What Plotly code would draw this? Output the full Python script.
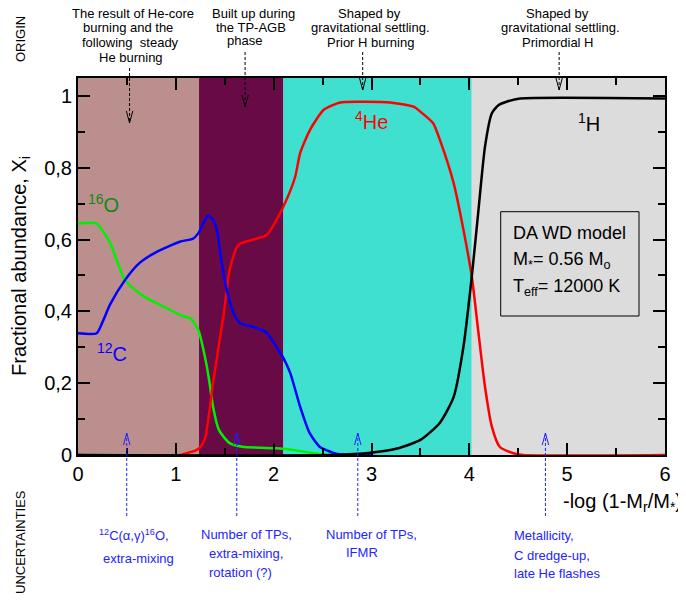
import plotly.graph_objects as go

# ---------------- data ----------------
o16_x = [0, 0.19, 0.25, 0.33, 0.48, 0.63, 0.75, 0.9, 1.04, 1.15, 1.23, 1.30, 1.34, 1.38, 1.44, 1.55, 1.68, 2.02, 2.13, 2.41, 2.6, 3.0]
o16_y = [0.645, 0.645, 0.625, 0.59, 0.487, 0.45, 0.43, 0.41, 0.39, 0.38, 0.348, 0.27, 0.209, 0.135, 0.07, 0.033, 0.023, 0.019, 0.017, 0.005, 0.0, 0.0]

c12_x = [0, 0.19, 0.25, 0.33, 0.48, 0.63, 0.8, 1.04, 1.18, 1.23, 1.28, 1.33, 1.38, 1.42, 1.47, 1.52, 1.59, 1.66, 1.79, 1.93, 2.03, 2.10, 2.17, 2.27, 2.37, 2.47, 2.61, 2.75, 3.0]
c12_y = [0.339, 0.339, 0.37, 0.42, 0.487, 0.535, 0.565, 0.594, 0.603, 0.618, 0.645, 0.667, 0.655, 0.627, 0.534, 0.46, 0.395, 0.367, 0.357, 0.34, 0.30, 0.27, 0.228, 0.135, 0.06, 0.023, 0.006, 0.0, 0.0]

he4_x = [0, 1.05, 1.11, 1.2, 1.25, 1.3, 1.34, 1.38, 1.49, 1.55, 1.64, 1.79, 1.93, 2.03, 2.13, 2.22, 2.27, 2.37, 2.51, 2.68, 2.9, 3.19, 3.43, 3.5, 3.63, 3.70, 3.84, 3.94, 4.025, 4.09, 4.16, 4.23, 4.31, 4.45, 4.55, 6.0]
he4_y = [0, 0, 0.005, 0.012, 0.022, 0.048, 0.116, 0.2, 0.394, 0.515, 0.585, 0.60, 0.613, 0.655, 0.71, 0.775, 0.84, 0.905, 0.961, 0.982, 0.984, 0.982, 0.970, 0.956, 0.924, 0.877, 0.757, 0.627, 0.497, 0.348, 0.19, 0.079, 0.023, 0.005, 0.0, 0.0]

h1_x = [0, 2.6, 2.99, 3.26, 3.5, 3.7, 3.84, 3.94, 4.025, 4.09, 4.16, 4.23, 4.3, 4.38, 4.52, 6.0]
h1_y = [0, 0, 0.006, 0.018, 0.042, 0.09, 0.162, 0.302, 0.497, 0.673, 0.859, 0.952, 0.975, 0.984, 0.993, 0.993]

region_edges = [0, 1.237, 2.10, 4.025, 6.0]
region_colors = ["#BC8F8F", "#670A45", "#40E0D0", "#DCDCDC"]

x_ticks = [0, 1, 2, 3, 4, 5, 6]
y_ticks = [0, 0.2, 0.4, 0.6, 0.8, 1.0]

top_arrow_x = [0.527, 1.708, 2.91, 4.918]
bottom_arrow_x = [0.498, 1.623, 2.86, 4.778]

# ---------------- layout helpers ----------------
OFF = 8                      # page body margin of the html page
W, H = 686 - OFF, 600 - OFF  # figure size so that it ends at the window edge
L, R, T, B = 78, 665, 78, 455  # plot area in page pixels
FONT = "Liberation Sans, Arial, Helvetica, sans-serif"


def px(x):
    return (x - L) / (R - L)


def py(y):
    return (B - y) / (B - T)


fig = go.Figure()

series = [
    (o16_x, o16_y, "#00F000"),
    (he4_x, he4_y, "#FF0000"),
    (c12_x, c12_y, "#0000FF"),
    (h1_x, h1_y, "#000000"),
]
for xs, ys, col in series:
    fig.add_trace(go.Scatter(x=xs, y=ys, mode="lines",
                             line=dict(color=col, width=2.5, shape="spline", smoothing=0.6),
                             showlegend=False, hoverinfo="skip"))

shapes = []
for i, col in enumerate(region_colors):
    shapes.append(dict(type="rect", xref="x", yref="paper", x0=region_edges[i], x1=region_edges[i + 1],
                       y0=0, y1=1, fillcolor=col, line=dict(width=0), layer="below"))

# info box
shapes.append(dict(type="rect", xref="paper", yref="paper", x0=px(500.7), x1=px(639), y0=py(316), y1=py(211.7),
                   line=dict(color="black", width=1), fillcolor="rgba(0,0,0,0)"))

dx = 3.2 / ((R - L) / 6.0)
# top arrows (black, pointing down)
top_from = [68, 52, 52, 52]
top_tip = [123, 107, 90, 90]
for xa, y0, y1 in zip(top_arrow_x, top_from, top_tip):
    shapes.append(dict(type="line", xref="x", yref="paper", x0=xa, x1=xa, y0=py(y0), y1=py(y1),
                       line=dict(color="black", width=1, dash="3px,2px")))
    shapes.append(dict(type="path", xref="x", yref="paper",
                       path=f"M {xa-dx},{py(y1-12)} L {xa},{py(y1)} L {xa+dx},{py(y1-12)}",
                       line=dict(color="black", width=1)))
# bottom arrows (blue, pointing up)
for xa in bottom_arrow_x:
    shapes.append(dict(type="line", xref="x", yref="paper", x0=xa, x1=xa, y0=py(516), y1=py(433),
                       line=dict(color="#2020FF", width=1, dash="3px,2px")))
    shapes.append(dict(type="path", xref="x", yref="paper",
                       path=f"M {xa-dx},{py(445)} L {xa},{py(433)} L {xa+dx},{py(445)}",
                       line=dict(color="#2020FF", width=1)))

ann = []


def txt(text, x, y, size, color="black", xanchor="center", angle=0, yanchor="middle"):
    ann.append(dict(text=text, x=px(x), y=py(y), xref="paper", yref="paper", showarrow=False,
                    font=dict(family=FONT, size=size, color=color), xanchor=xanchor, yanchor=yanchor,
                    textangle=angle))


# top origin texts
for t, x, y in [("The result of He-core", 133, 13), ("burning and the", 128, 27),
                ("following  steady", 130, 42), ("He burning", 131, 58),
                ("Built up during", 253, 13), ("the TP-AGB", 251, 27), ("phase", 244, 41),
                ("Shaped by", 369, 13), ("gravitational settling.", 370, 27.5), ("Prior H burning", 370, 42.5),
                ("Shaped by", 557, 13), ("gravitational settling.", 560, 27.5), ("Primordial H", 558, 42.5)]:
    txt(t, x, y, 13)

# bottom uncertainty texts
BL = "#2424FF"
for t, x, y in [("<sup>12</sup>C(α,γ)<sup>16</sup>O,", 134, 535), ("extra-mixing", 138, 558),
                ("Number of TPs,", 246, 534), ("extra-mixing,", 245.5, 553), ("rotation (?)", 240, 572),
                ("Number of TPs,", 371, 534), ("IFMR", 361.5, 552)]:
    txt(t, x, y, 13, BL)
for t, y in [("Metallicity,", 535), ("C dredge-up,", 555), ("late He flashes", 573)]:
    txt(t, 511.7, y, 13, BL, xanchor="left")

# side labels
txt("ORIGIN", 20, 39, 13, angle=-90)
txt("UNCERTAINTIES", 20, 542, 13, angle=-90)
txt("Fractional abundance, X<sub>i</sub>", 20, 266, 20, angle=-90)
txt("-log (1-M<sub>r</sub>/M<sub>*</sub>)", 684, 502, 20, xanchor="right")

# species labels
txt("<sup>16</sup>O", 103, 203, 20, "#108A10")
txt("<sup>12</sup>C", 112, 352, 20, "#0000FF")
txt("<sup>4</sup>He", 372, 121, 20, "#FF0000")
txt("<sup>1</sup>H", 589, 122, 20, "#000000")

# info box text
txt("DA WD model", 510.7, 233, 18, xanchor="left")
txt("M<sub>*</sub>= 0.56 M<sub>o</sub>", 510.7, 260, 18, xanchor="left")
txt("T<sub>eff</sub>= 12000 K", 510.7, 287, 18, xanchor="left")

axis_common = dict(showline=True, linecolor="black", linewidth=2, mirror="allticks",
                   ticks="inside", ticklen=12, tickwidth=1.5, tickcolor="black",
                   showgrid=False, zeroline=False,
                   tickfont=dict(family=FONT, size=20, color="black"))

fig.update_layout(
    width=W, height=H, autosize=False,
    margin=dict(l=L - OFF, r=686 - R, t=T - OFF, b=600 - B),
    paper_bgcolor="white", plot_bgcolor="white",
    separators=",.",
    shapes=shapes, annotations=ann,
    xaxis=dict(range=[0, 6], tickvals=x_ticks,
               minor=dict(dtick=0.5, ticks="inside", ticklen=7, tickwidth=1.5, tickcolor="black", showgrid=False),
               **axis_common),
    yaxis=dict(range=[0, 1.05], tickvals=y_ticks,
               minor=dict(dtick=0.1, ticks="inside", ticklen=7, tickwidth=1.5, tickcolor="black", showgrid=False),
               **axis_common),
)

fig.write_html("out.html")
